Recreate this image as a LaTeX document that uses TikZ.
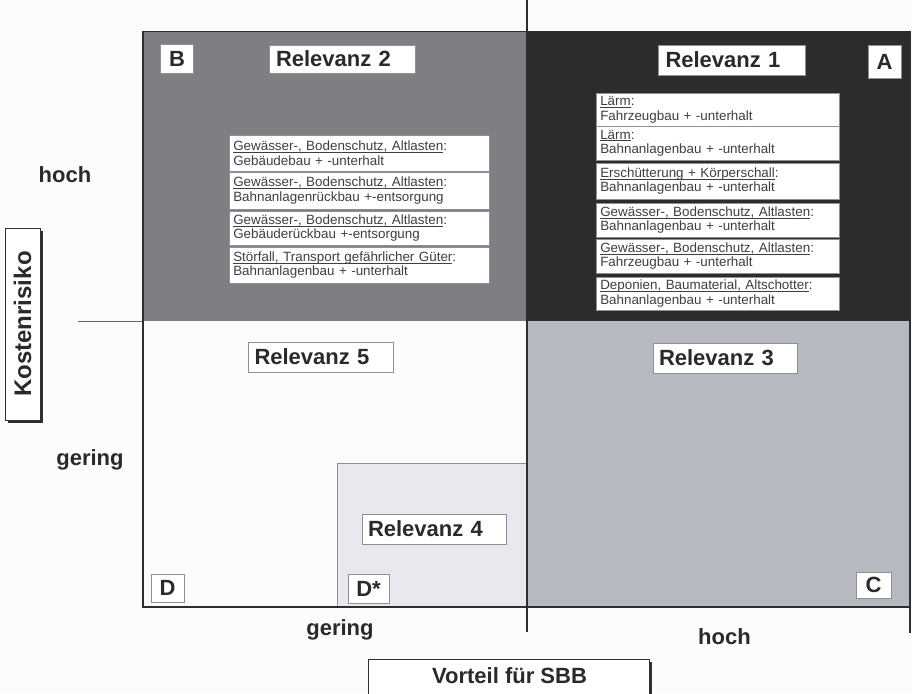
\documentclass[tikz,border=0pt]{standalone}
\usepackage{fontspec}
\setmainfont{Liberation Sans}
\definecolor{bgc}{HTML}{FAFCFD}
\definecolor{grayB}{HTML}{7E7F82}
\definecolor{darkA}{HTML}{2C2C2E}
\definecolor{lightC}{HTML}{B6BAC0}
\definecolor{lightD}{HTML}{E7E9EE}
\definecolor{txt}{HTML}{2A2A2A}
\definecolor{linec}{HTML}{2E2E33}
\definecolor{boxline}{HTML}{8E9096}
\newlength{\ulwid}
\newcommand{\ulx}[1]{\settowidth{\ulwid}{#1}\rlap{\rule[-1.7pt]{\ulwid}{0.55pt}}#1}
\begin{document}
\begin{tikzpicture}[x=1pt,y=-1pt,
  big/.style={font=\fontsize{22}{26}\selectfont\bfseries},
  lbl/.style={draw=boxline, line width=0.6pt, fill=white, inner sep=0pt, text=txt, big},
  rel/.style={lbl, minimum height=30pt, text width=132pt, inner xsep=6pt, align=left},
  letter/.style={lbl, minimum width=33pt, minimum height=29pt},
  axis/.style={text=txt, big, anchor=base, inner sep=0pt},
  entry/.style={draw=boxline, line width=0.5pt, fill=white, anchor=north west, inner xsep=4pt, inner ysep=0pt, align=left, text=txt!90, font=\fontsize{13.4}{14.5}\selectfont},
  lentry/.style={entry, text width=252pt},
  rentry/.style={entry, text width=235pt}]
\clip (0,0) rectangle (912,693);
\fill[bgc] (0,0) rectangle (912,693);
% quadrants
\fill[grayB] (143,31) rectangle (527,321);
\fill[darkA] (527,31) rectangle (910,321);
\fill[lightC] (527,321) rectangle (910,607);
\fill[lightD] (337,463) rectangle (527,607);
\draw[boxline, line width=0.7pt] (337,607) -- (337,463) -- (527,463);
% axes and frame
\draw[linec, line width=0.8pt] (143,31) -- (910,31);
\draw[gray!80!black, line width=0.8pt] (78,321) -- (143,321);
\draw[linec, line width=1.1pt] (527,0) -- (527,632);
\draw[linec, line width=2pt] (143,31) -- (143,608);
\draw[linec, line width=2pt] (142,607) -- (910,607);
\draw[linec, line width=2pt] (910,31) -- (910,633);
% quadrant labels
\node[letter] (B) at (177,58.5) {B};
\node[rel, minimum width=146pt, minimum height=28pt] (R2) at (342,59) {Relevanz 2};
\node[rel, minimum width=147pt] (R1) at (731.5,60) {Relevanz 1};
\node[letter, minimum height=33pt] (A) at (884.5,61.5) {A};
\node[rel, minimum width=145pt] (R5) at (320.5,357) {Relevanz 5};
\node[rel, minimum width=144pt] (R3) at (725,358) {Relevanz 3};
\node[rel, minimum width=144pt] (R4) at (434,529) {Relevanz 4};
\node[letter, minimum height=28pt] (D) at (167.5,588) {D};
\node[letter, minimum width=41pt] (Ds) at (368.5,588.5) {D*};
\node[letter, minimum width=35pt, minimum height=26pt] (C) at (873.5,585) {C};
% entries B
\node[lentry, minimum height=36pt] (b1) at (229,135) {\ulx{Gewässer-, Bodenschutz, Altlasten}:\\Gebäudebau + -unterhalt};
\node[lentry, minimum height=37pt] (b2) at (229,172) {\ulx{Gewässer-, Bodenschutz, Altlasten}:\\Bahnanlagenrückbau +-entsorgung};
\node[lentry, minimum height=34pt] (b3) at (229,211) {\ulx{Gewässer-, Bodenschutz, Altlasten}:\\Gebäuderückbau +-entsorgung};
\node[lentry, minimum height=36pt] (b4) at (229,247) {\ulx{Störfall, Transport gefährlicher Güter}:\\Bahnanlagenbau + -unterhalt};
% entries A
\node[rentry, minimum height=33pt] (a1) at (596,93) {\ulx{Lärm}:\\Fahrzeugbau + -unterhalt};
\node[rentry, minimum height=34pt] (a2) at (596,126) {\ulx{Lärm}:\\Bahnanlagenbau + -unterhalt};
\node[rentry, minimum height=36pt] (a3) at (596,163) {\ulx{Erschütterung + Körperschall}:\\Bahnanlagenbau + -unterhalt};
\node[rentry, minimum height=34pt] (a4) at (596,203) {\ulx{Gewässer-, Bodenschutz, Altlasten}:\\Bahnanlagenbau + -unterhalt};
\node[rentry, minimum height=34pt] (a5) at (596,239) {\ulx{Gewässer-, Bodenschutz, Altlasten}:\\Fahrzeugbau + -unterhalt};
\node[rentry, minimum height=33pt] (a6) at (596,277) {\ulx{Deponien, Baumaterial, Altschotter}:\\Bahnanlagenbau + -unterhalt};
% axis labels
\node[axis] (yh) at (65,182) {hoch};
\node[axis] (yg) at (90,465) {gering};
\node[axis] (xg) at (340,635) {gering};
\node[axis] (xh) at (724.5,644) {hoch};
% Kostenrisiko box with shadow
\fill[linec] (8,231) rectangle (43,423);
\node[lbl, draw=linec, minimum width=35pt, minimum height=192pt] (K) at (22.5,324) {};
\node[text=txt, font=\fontsize{24}{28}\selectfont\bfseries, rotate=90, inner sep=0pt] (Kt) at (K.center) {Kostenrisiko};
% Vorteil box with shadow
\fill[linec] (371,662) rectangle (652,700);
\node[lbl, draw=linec, anchor=north west, minimum width=281pt, minimum height=45pt] (V) at (368,659) {};
\node[axis] (Vt) at (509.5,683) {Vorteil für SBB};
\end{tikzpicture}
\end{document}
